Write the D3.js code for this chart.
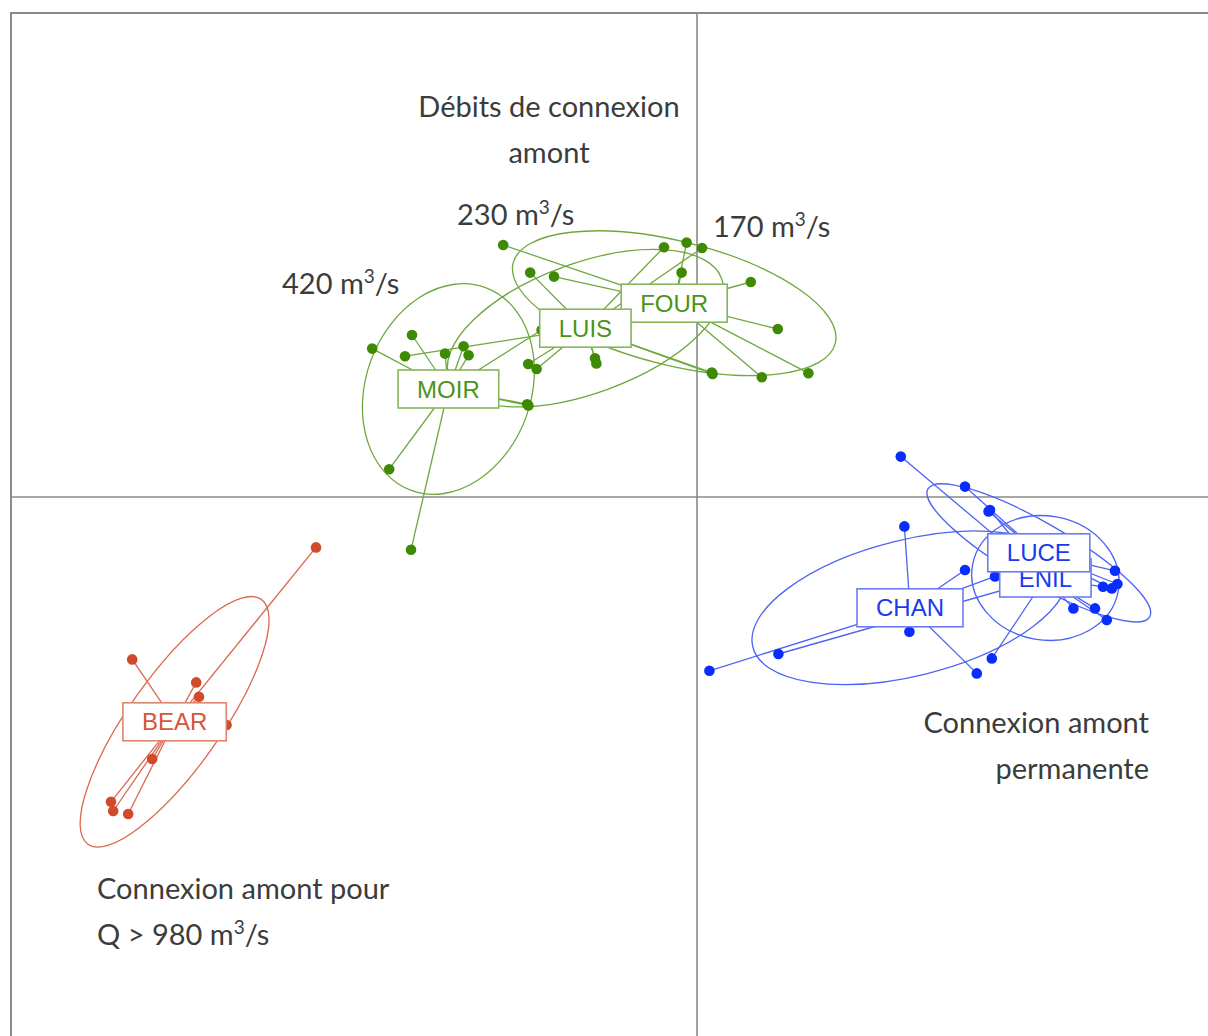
<!DOCTYPE html>
<html>
<head>
<meta charset="utf-8">
<script src="https://cdn.jsdelivr.net/npm/d3@7/dist/d3.min.js"></script>
<style>
  body { margin: 0; background: #fff; }
  svg { display: block; }
</style>
</head>
<body>
<div id="chart"></div>
<script>
// classes (factor levels), in drawing order
var classes = ["BEAR", "CHAN", "ENIL", "FOUR", "LUCE", "LUIS", "MOIR"];
var classGroup = ["red", "blue", "blue", "green", "blue", "green", "green"];

// class centroids (factorial coordinates)
var centroidX = [-2.612, 1.065, 1.742, -0.114, 1.709, -0.558, -1.243];
var centroidY = [-1.124, -0.554, -0.405, 0.969, -0.279, 0.844, 0.540];

// ellipse half axes and angle (degrees)
var ellipseA = [0.75, 0.81, 0.37, 0.83, 0.64, 0.725, 0.54];
var ellipseB = [0.23, 0.34, 0.31, 0.31, 0.15, 0.325, 0.413];
var ellipseAngle = [54.7, 14, -10, -14, -30, 20, 69.9];

// individual rows
var pointClass = [
  "BEAR", "BEAR", "BEAR", "BEAR", "BEAR", "BEAR", "BEAR", "BEAR", "BEAR",
  "CHAN", "CHAN", "CHAN", "CHAN", "CHAN", "CHAN",
  "ENIL", "ENIL", "ENIL", "ENIL", "ENIL", "ENIL", "ENIL", "ENIL",
  "FOUR", "FOUR", "FOUR", "FOUR", "FOUR", "FOUR", "FOUR", "FOUR",
  "LUCE", "LUCE", "LUCE", "LUCE", "LUCE",
  "LUIS", "LUIS", "LUIS", "LUIS", "LUIS", "LUIS", "LUIS", "LUIS", "LUIS", "LUIS",
  "MOIR", "MOIR", "MOIR", "MOIR", "MOIR", "MOIR", "MOIR", "MOIR", "MOIR", "MOIR"
];
var pointX = [
  -1.905, -2.824, -2.504, -2.490, -2.352, -2.724, -2.930, -2.919, -2.844,
  1.037, 0.062, 1.062, 1.399, 1.340, 1.490,
  1.019, 0.407, 1.474, 1.882, 1.990, 2.030, 2.049, 1.465,
  -0.969, -0.715, -0.052, -0.077, 0.269, 0.404, 0.324, 0.557,
  1.340, 2.090, 2.074, 2.102, 1.458,
  -1.460, -0.834, -0.844, -0.802, -0.510, -0.503, -0.165, 0.025, 0.074, 0.078,
  -1.624, -1.425, -1.260, -1.167, -1.142, -1.539, -1.430, -0.849, -0.843, -0.777
];
var pointY = [
  -0.252, -0.812, -0.927, -0.999, -1.140, -1.310, -1.524, -1.570, -1.585,
  -0.147, -0.869, -0.674, -0.882, -0.365, -0.397,
  0.202, -0.785, -0.807, -0.557, -0.557, -0.449, -0.615, -0.065,
  1.260, 1.102, 1.272, 1.122, 1.075, 0.840, 0.599, 0.619,
  0.052, -0.369, -0.457, -0.435, -0.072,
  0.704, 1.122, 0.665, 0.640, 0.694, 0.668, 1.249, 1.245, 0.622, 0.615,
  0.742, 0.810, 0.717, 0.754, 0.709, 0.139, -0.264, 0.464, 0.458, 0.835
];

// annotations
var noteLines = [
  ["Débits de connexion", "amont"],
  ["230 m³/s"],
  ["170 m³/s"],
  ["420 m³/s"],
  ["Connexion amont", "permanente"],
  ["Connexion amont pour", "Q > 980 m³/s"]
];

// styles
var colors = {
  green: { point: "#3f8a04", line: "#6ea83c", box: "#86b65a", text: "#4b9416" },
  blue:  { point: "#0a2cff", line: "#4d63f5", box: "#6b7cf3", text: "#1a3aee" },
  red:   { point: "#d24a2c", line: "#d9694f", box: "#df8470", text: "#d5543a" }
};
var notePos = [
  { x: 549, y: 117, anchor: "middle" },
  { x: 457, y: 225, anchor: "start" },
  { x: 713, y: 237, anchor: "start" },
  { x: 282, y: 294, anchor: "start" },
  { x: 1149, y: 733, anchor: "end" },
  { x: 97, y: 899, anchor: "start" }
];

var width = 1208, height = 1036;
var unit = 200;
var x = d3.scaleLinear().domain([0, 1]).range([697, 697 + unit]);
var y = d3.scaleLinear().domain([0, 1]).range([497, 497 - unit]);

var svg = d3.select("#chart").append("svg")
  .attr("width", width)
  .attr("height", height)
  .style("font-family", "Lato, 'Open Sans', sans-serif");

// frame
svg.append("rect")
  .attr("x", x(-3.43)).attr("y", y(2.42))
  .attr("width", x(3) - x(-3.43)).attr("height", y(-3) - y(2.42))
  .attr("fill", "none")
  .attr("stroke", "#8a8a8a")
  .attr("stroke-width", 2);

// axes through origin
svg.append("line")
  .attr("x1", x(-3.43)).attr("x2", x(3))
  .attr("y1", y(0)).attr("y2", y(0))
  .attr("stroke", "#8a8a8a").attr("stroke-width", 1.6);
svg.append("line")
  .attr("x1", x(0)).attr("x2", x(0))
  .attr("y1", y(2.42)).attr("y2", y(-3))
  .attr("stroke", "#8a8a8a").attr("stroke-width", 1.6);

var classIndex = {};
classes.forEach(function (c, i) { classIndex[c] = i; });

var points = pointClass.map(function (c, i) {
  return { cls: c, x: pointX[i], y: pointY[i], k: classIndex[c] };
});

function col(k) { return colors[classGroup[k]]; }

// stars: centroid -> each row
svg.append("g").selectAll("line")
  .data(points)
  .enter().append("line")
  .attr("x1", function (d) { return x(centroidX[d.k]); })
  .attr("y1", function (d) { return y(centroidY[d.k]); })
  .attr("x2", function (d) { return x(d.x); })
  .attr("y2", function (d) { return y(d.y); })
  .attr("stroke", function (d) { return col(d.k).line; })
  .attr("stroke-width", 1.3);

// ellipses
svg.append("g").selectAll("ellipse")
  .data(classes)
  .enter().append("ellipse")
  .attr("cx", function (d, i) { return x(centroidX[i]); })
  .attr("cy", function (d, i) { return y(centroidY[i]); })
  .attr("rx", function (d, i) { return x(ellipseA[i]) - x(0); })
  .attr("ry", function (d, i) { return x(ellipseB[i]) - x(0); })
  .attr("transform", function (d, i) {
    return "rotate(" + (-ellipseAngle[i]) + "," + x(centroidX[i]) + "," + y(centroidY[i]) + ")";
  })
  .attr("fill", "none")
  .attr("stroke", function (d, i) { return col(i).line; })
  .attr("stroke-width", 1.3);

// points
svg.append("g").selectAll("circle")
  .data(points)
  .enter().append("circle")
  .attr("cx", function (d) { return x(d.x); })
  .attr("cy", function (d) { return y(d.y); })
  .attr("r", 5.3)
  .attr("fill", function (d) { return col(d.k).point; });

// class labels in boxes
var labels = svg.append("g").selectAll("g")
  .data(classes)
  .enter().append("g")
  .attr("transform", function (d, i) {
    return "translate(" + x(centroidX[i]) + "," + y(centroidY[i]) + ")";
  });

labels.append("rect");
labels.append("text")
  .attr("text-anchor", "middle")
  .attr("dy", "0.36em")
  .style("font-family", "'Liberation Sans', Arial, sans-serif")
  .style("font-size", "24px")
  .attr("fill", function (d, i) { return col(i).text; })
  .text(function (d) { return d; });

labels.each(function (d, i) {
  var g = d3.select(this);
  var w = g.select("text").node().getBBox().width + 38;
  g.select("rect")
    .attr("x", -w / 2).attr("y", -19)
    .attr("width", w).attr("height", 38)
    .attr("fill", "#fff")
    .attr("stroke", col(i).box)
    .attr("stroke-width", 1.6);
});

// annotation texts, "³" drawn as a raised 3
noteLines.forEach(function (lines, i) {
  var t = svg.append("text")
    .attr("x", notePos[i].x)
    .attr("y", notePos[i].y)
    .attr("text-anchor", notePos[i].anchor)
    .attr("fill", "#3c3c3c")
    .style("font-size", "29px");
  lines.forEach(function (s, j) {
    var parts = s.split("³");
    t.append("tspan")
      .attr("x", notePos[i].x)
      .attr("dy", j === 0 ? 0 : 46)
      .text(parts[0]);
    if (parts.length > 1) {
      t.append("tspan")
        .attr("dy", -11)
        .style("font-size", "19px")
        .text("3");
      t.append("tspan")
        .attr("dy", 11)
        .text(parts[1]);
    }
  });
});
</script>
</body>
</html>
